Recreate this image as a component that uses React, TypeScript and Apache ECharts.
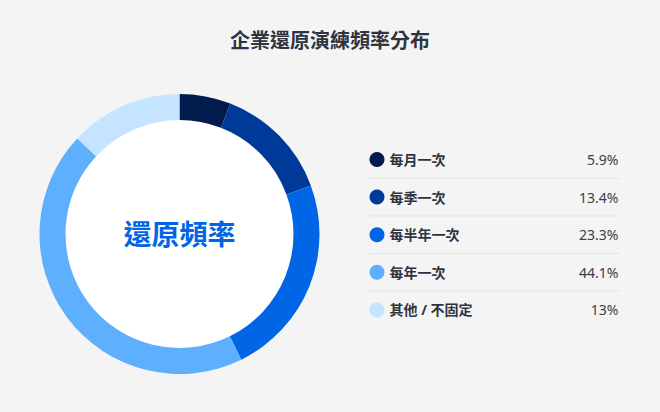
import React, { useEffect, useRef } from "react";
import * as echarts from "echarts";

const title = "企業還原演練頻率分布";
const centerLabel = "還原頻率";
const categories = ["每月一次", "每季一次", "每半年一次", "每年一次", "其他 / 不固定"];
const values = [5.9, 13.4, 23.3, 44.1, 13];
const colors = ["#011b4d", "#003a99", "#0066e6", "#5eb0ff", "#c4e4ff"];

const FONT = '"Noto Sans", "Noto Sans CJK TC", sans-serif';

export default function App() {
  const ref = useRef<HTMLDivElement>(null);
  useEffect(() => {
    document.body.style.margin = "0";
    document.body.style.background = "#f4f4f4";
    const chart = echarts.init(ref.current!, undefined, { renderer: "svg" });
    const legendTop = 152;
    const rowH = 37.6;
    const iconSize = 15;
    const lines = categories.slice(0, -1).map((_, i) => ({
      type: "line",
      shape: {
        x1: 369,
        y1: legendTop + iconSize / 2 + rowH * (i + 0.5),
        x2: 620,
        y2: legendTop + iconSize / 2 + rowH * (i + 0.5),
      },
      style: { stroke: "#e4e4e4", lineWidth: 1 },
      silent: true,
    }));
    chart.setOption({
      animation: false,
      backgroundColor: "#f4f4f4",
      textStyle: { fontFamily: FONT },
      title: {
        text: title,
        left: "center",
        top: 30,
        padding: 0,
        textStyle: { fontSize: 20, fontWeight: "bold", color: "#2e3440", fontFamily: FONT },
      },
      legend: {
        orient: "vertical",
        left: 369.5,
        top: legendTop,
        padding: 0,
        icon: "circle",
        itemWidth: iconSize,
        itemHeight: iconSize,
        itemGap: rowH - iconSize,
        selectedMode: false,
        data: categories,
        formatter: (name: string) => {
          const i = categories.indexOf(name);
          return `{n|${name}}{v|${values[i]}%}`;
        },
        textStyle: {
          fontFamily: FONT,
          rich: {
            n: { width: 150, fontSize: 14, fontWeight: "bold", color: "#2e3440", fontFamily: FONT },
            v: { width: 79, align: "right", fontSize: 14, color: "#3a3f48", fontFamily: FONT },
          },
        },
      },
      graphic: lines,
      series: [
        {
          type: "pie",
          radius: [0, 114],
          center: [179.5, 234],
          silent: true,
          data: [{ value: 1, name: "", itemStyle: { color: "#ffffff" } }],
          label: {
            show: true,
            position: "center",
            formatter: centerLabel,
            fontSize: 28,
            fontWeight: "bold",
            color: "#0066e6",
            fontFamily: FONT,
          },
          labelLine: { show: false },
          emphasis: { disabled: true },
        },
        {
          type: "pie",
          radius: [114, 140],
          center: [179.5, 234],
          startAngle: 90,
          clockwise: true,
          label: { show: false },
          labelLine: { show: false },
          itemStyle: { borderWidth: 0 },
          data: categories.map((c, i) => ({ name: c, value: values[i], itemStyle: { color: colors[i] } })),
        },
      ],
    });
    return () => chart.dispose();
  }, []);
  return <div ref={ref} style={{ width: 660, height: 412 }} />;
}
